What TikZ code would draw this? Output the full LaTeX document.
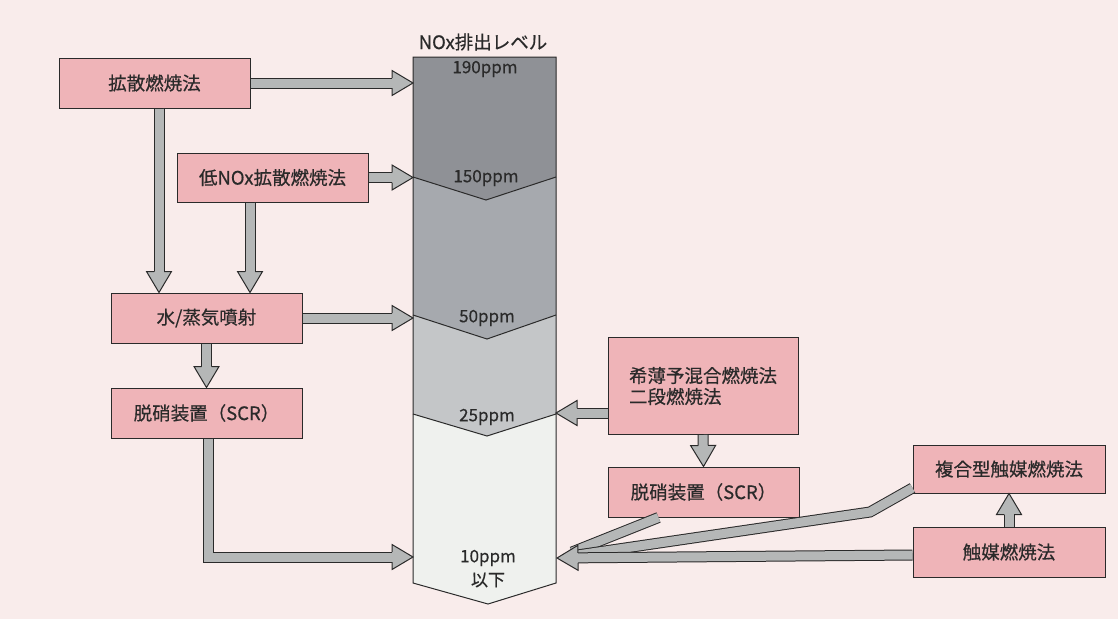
\documentclass[tikz,border=0pt]{standalone}
\usepackage{fontspec}
\setmainfont{Noto Sans CJK JP}[FakeBold=0.5]
\usetikzlibrary{calc}
\definecolor{bg}{HTML}{F9ECEB}
\definecolor{boxpink}{HTML}{EFB4B8}
\definecolor{agray}{HTML}{B5B7B7}
\definecolor{lvA}{HTML}{8F9196}
\definecolor{lvB}{HTML}{A6A9AE}
\definecolor{lvC}{HTML}{C4C6C8}
\definecolor{lvD}{HTML}{EFF1EE}
\definecolor{ink}{HTML}{2A2A2A}
\tikzset{
  shaft/.style={draw=ink, line width=1pt, double=agray, double distance=9pt, line cap=butt, line join=miter, shorten >=20pt},
  box/.style={draw=ink, line width=1pt, fill=boxpink, minimum width=191pt, minimum height=50pt, inner sep=0pt, font=\fontsize{18.5}{21}\selectfont, text=ink},
  lvl/.style={inner sep=0pt, font=\fontsize{17}{19}\selectfont, text=ink},
  colline/.style={draw=ink, line width=1pt, line join=miter}
}
\newcommand\fathead[2]{%
  \fill[agray] ($(#2)!21pt!(#1)!12.5pt!90:(#1)$) -- (#2) -- ($(#2)!21pt!(#1)!12.5pt!-90:(#1)$) -- cycle;
  \draw[ink, line width=1pt, line join=miter] ($(#2)!21pt!(#1)!5pt!90:(#1)$) -- ($(#2)!21pt!(#1)!12.5pt!90:(#1)$) -- (#2) -- ($(#2)!21pt!(#1)!12.5pt!-90:(#1)$) -- ($(#2)!21pt!(#1)!5pt!-90:(#1)$);
}
\newcommand\fatarrow[3]{\draw[shaft] #1 -- (#3); \fathead{#2}{#3}}
\begin{document}
\begin{tikzpicture}[x=1pt, y=-1pt]
\useasboundingbox (0,0) rectangle (1118,619);
\fill[bg] (0,0) rectangle (1118,619);
% level column
\fill[lvA] (413,57) -- (556,57) -- (556,177) -- (486,200) -- (413,177) -- cycle;
\fill[lvB] (413,177) -- (486,200) -- (556,177) -- (556,315) -- (487,339) -- (413,315) -- cycle;
\fill[lvC] (413,315) -- (487,339) -- (556,315) -- (556,414) -- (487,436) -- (413,414) -- cycle;
\fill[lvD] (413,414) -- (487,436) -- (556,414) -- (556,583) -- (488,604) -- (413,583) -- cycle;
\draw[colline] (413,57) -- (556,57) -- (556,583) -- (488,604) -- (413,583) -- cycle;
\draw[colline] (413,177) -- (486,200) -- (556,177);
\draw[colline] (413,315) -- (487,339) -- (556,315);
\draw[colline] (413,414) -- (487,436) -- (556,414);
\node[lvl, font=\fontsize{18.5}{20}\selectfont] (title) at (483,42) {NOx排出レベル};
\node[lvl] (l190) at (485,69) {190ppm};
\node[lvl] (l150) at (486,178) {150ppm};
\node[lvl] (l50) at (487,318) {50ppm};
\node[lvl] (l25) at (487,417) {25ppm};
\node[lvl] (l10) at (488,558) {10ppm};
\node[lvl] (l10b) at (488,580) {以下};
% boxes
\node[box] (n1) at (154.5,83) {拡散燃焼法};
\node[box, minimum height=49pt] (n2) at (272.5,177.5) {低NOx拡散燃焼法};
\node[box] (n3) at (206.5,318) {水/蒸気噴射};
\node[box] (n4) at (206.5,413) {脱硝装置（SCR）};
\node[box, minimum width=190pt, minimum height=97pt, align=left] (n5) at (703,386) {希薄予混合燃焼法\\二段燃焼法};
\node[box] (n6) at (703.5,492) {脱硝装置（SCR）};
\node[box, minimum width=192pt, minimum height=48pt] (n7) at (1009,469) {複合型触媒燃焼法};
\node[box, minimum width=192pt] (n8) at (1009,552) {触媒燃焼法};
% arrow end points
\coordinate (p190) at (413,83);
\coordinate (p150) at (413,177.5);
\coordinate (p50) at (413,318);
\coordinate (p10L) at (413,557);
\coordinate (p25) at (556,413);
\coordinate (p10R) at (557,558);
\coordinate (s1) at ($(n1.south)+(4.5,0)$);
\coordinate (e1) at (s1 |- n3.north);
\coordinate (s2) at ($(n2.south)+(-22.5,0)$);
\coordinate (e2) at (s2 |- n3.north);
\coordinate (s4) at ($(n4.south)+(1.5,0)$);
\coordinate (g1) at (s4 |- p10L);
\coordinate (s5) at ($(n5.west)+(0,27)$);
\coordinate (s6) at ($(n6.south)+(-45,0)$);
\coordinate (k1) at ($(n7.west)+(0,19)$);
\coordinate (k2) at (870,512);
\coordinate (s8) at ($(n8.west)+(0,3)$);
% arrows
\fatarrow{(n1.east)}{n1.east}{p190}
\fatarrow{(n2.east)}{n2.east}{p150}
\fatarrow{(n3.east)}{n3.east}{p50}
\fatarrow{(s1)}{s1}{e1}
\fatarrow{(s2)}{s2}{e2}
\fatarrow{(n3.south)}{n3.south}{n4.north}
\fatarrow{(s4) -- (g1)}{g1}{p10L}
\fatarrow{(s5)}{s5}{p25}
\fatarrow{(n5.south)}{n5.south}{n6.north}
\fatarrow{(n8.north)}{n8.north}{n7.south}
\draw[shaft, shorten >=16pt] (s6) -- (p10R);
\draw[shaft, shorten >=16pt] (k1) -- (k2) -- (p10R);
\fatarrow{(s8)}{s8}{p10R}
\end{tikzpicture}
\end{document}
